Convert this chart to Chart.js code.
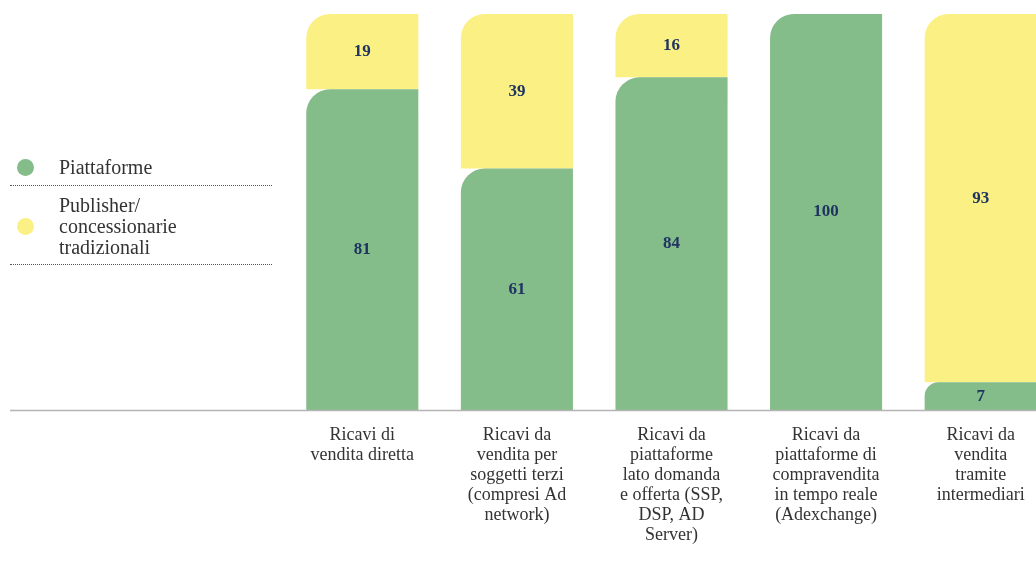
<!DOCTYPE html>
<html>
<head>
<meta charset="utf-8">
<script src="https://cdn.jsdelivr.net/npm/chart.js@4/dist/chart.umd.min.js"></script>
<style>
  html, body { margin: 0; padding: 0; background: #fff; overflow: hidden; }
  #pagina { position: relative; width: 1036px; height: 562px; overflow: hidden; }
  #contenitore { position: absolute; left: 0; top: 0; width: 1058px; height: 562px; }
  .legenda { position: absolute; left: 10px; width: 262px; font-family: "Liberation Serif", serif; font-size: 20px; color: #333; border-bottom: 1px dotted #555; }
  .legenda .pallino { position: absolute; left: 7px; width: 17px; height: 17px; border-radius: 50%; }
  .legenda .testo { margin-left: 49px; line-height: 21px; }
</style>
</head>
<body>
<div id="pagina">
  <div id="contenitore"><canvas id="meuGrafico"></canvas></div>
  <div class="legenda" style="top:157px; height:28px;">
    <span class="pallino" style="top:2px; background:#84bc8a;"></span>
    <div class="testo">Piattaforme</div>
  </div>
  <div class="legenda" style="top:195px; height:69px;">
    <span class="pallino" style="top:23px; background:#fbf083;"></span>
    <div class="testo">Publisher/<br>concessionarie<br>tradizionali</div>
  </div>
</div>
<script>
const categorie = [
    ['Ricavi di', 'vendita diretta'],
    ['Ricavi da', 'vendita per', 'soggetti terzi', '(compresi Ad', 'network)'],
    ['Ricavi da', 'piattaforme', 'lato domanda', 'e offerta (SSP,', 'DSP, AD', 'Server)'],
    ['Ricavi da', 'piattaforme di', 'compravendita', 'in tempo reale', '(Adexchange)'],
    ['Ricavi da', 'vendita', 'tramite', 'intermediari']
];
const piattaforme = [81, 61, 84, 100, 7];
const publisher = [19, 39, 16, 0, 93];

// Etichette dei valori al centro di ogni segmento
const etichetteValori = {
    id: 'etichetteValori',
    afterDatasetsDraw(chart) {
        const ctx = chart.ctx;
        ctx.save();
        ctx.font = 'bold 17px "Liberation Serif", serif';
        ctx.fillStyle = '#1f3461';
        ctx.textAlign = 'center';
        ctx.textBaseline = 'middle';
        chart.data.datasets.forEach((ds, i) => {
            chart.getDatasetMeta(i).data.forEach((el, j) => {
                const v = ds.data[j];
                if (!v) return;
                ctx.fillText(String(v), el.x, (el.y + el.base) / 2);
            });
        });
        ctx.restore();
    }
};

// Linea di base che parte da sinistra
const lineaBase = {
    id: 'lineaBase',
    afterDatasetsDraw(chart) {
        const ctx = chart.ctx;
        const y = chart.scales.y.getPixelForValue(0) + 0.5;
        ctx.save();
        ctx.strokeStyle = '#b4b4b4';
        ctx.lineWidth = 1.5;
        ctx.beginPath();
        ctx.moveTo(10, y);
        ctx.lineTo(chart.width, y);
        ctx.stroke();
        ctx.restore();
    }
};

const raggio = { topLeft: 24, topRight: 0, bottomLeft: 0, bottomRight: 0 };

const dados = {
    labels: categorie,
    datasets: [{
        label: 'Piattaforme',
        data: piattaforme,
        backgroundColor: '#84bc8a',
        borderRadius: raggio,
        borderSkipped: 'start'
    }, {
        label: 'Publisher/concessionarie tradizionali',
        data: publisher,
        backgroundColor: '#fbf083',
        borderRadius: raggio,
        borderSkipped: 'start'
    }]
};

var configuracao = {
    type: 'bar',
    data: dados,
    options: {
        responsive: true,
        maintainAspectRatio: false,
        animation: false,
        categoryPercentage: 1,
        barPercentage: 0.725,
        layout: { padding: { left: 285, right: 0, top: 14, bottom: 10 } },
        plugins: {
            legend: { display: false },
            tooltip: { enabled: false }
        },
        scales: {
            x: {
                stacked: true,
                grid: { display: false },
                border: { display: false },
                ticks: {
                    maxRotation: 0,
                    autoSkip: false,
                    padding: 7,
                    color: '#333',
                    font: { family: '"Liberation Serif", serif', size: 18, lineHeight: 1.111 }
                }
            },
            y: {
                stacked: true,
                display: false,
                min: 0,
                max: 100
            }
        }
    },
    plugins: [etichetteValori, lineaBase]
};

var meuGrafico = new Chart(document.getElementById('meuGrafico'), configuracao);
</script>
</body>
</html>
